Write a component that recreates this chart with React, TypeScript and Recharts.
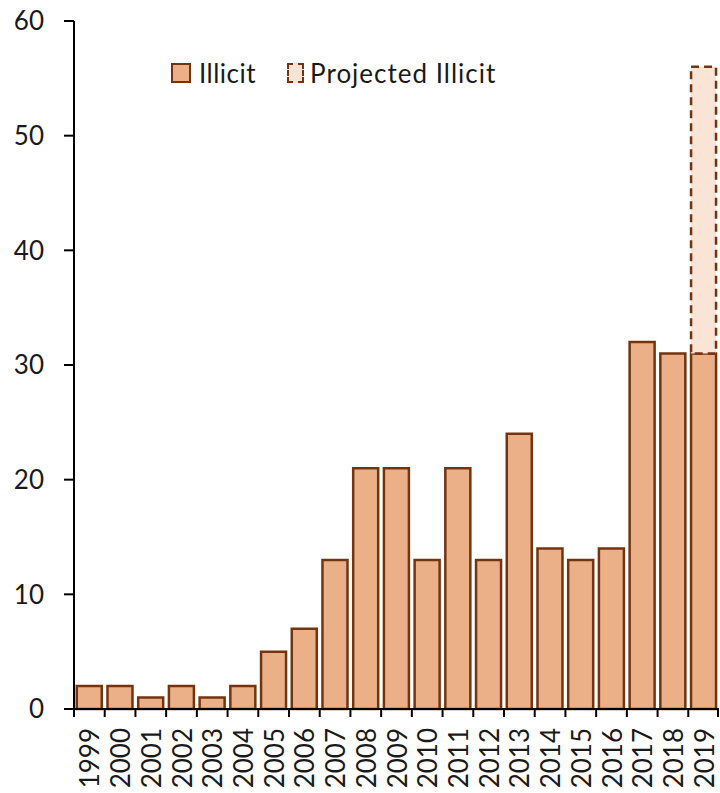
import React from "react";
import { BarChart, Bar, XAxis, YAxis } from "recharts";

const years = [
  "1999", "2000", "2001", "2002", "2003", "2004", "2005", "2006", "2007", "2008", "2009",
  "2010", "2011", "2012", "2013", "2014", "2015", "2016", "2017", "2018", "2019",
];
const illicit = [2, 2, 1, 2, 1, 2, 5, 7, 13, 21, 21, 13, 21, 13, 24, 14, 13, 14, 32, 31, 31];
// extra amount stacked on top of 2019 (projected total 56)
const projectedExtra = [0, 0, 0, 0, 0, 0, 0, 0, 0, 0, 0, 0, 0, 0, 0, 0, 0, 0, 0, 0, 25];
const yTicks = [0, 10, 20, 30, 40, 50, 60];

const data = years.map((year, i) => ({
  year,
  illicit: illicit[i],
  projected: projectedExtra[i] || null,
}));

const FILL = "#EBB088";
const STROKE = "#743410";
const PROJ_FILL = "#F9E4D6";
const FONT = "Lato, 'Open Sans', sans-serif";
const TEXT = "#1a1a1a";

const W = 720;
const H = 793;
const LEFT = 74;
const RIGHT = 1;
const band = (W - LEFT - RIGHT) / years.length;

function YearTick(props: any) {
  const { x, y, payload, index } = props;
  const isLast = index === years.length - 1;
  return (
    <g>
      <line x1={x - band / 2} x2={x - band / 2} y1={y - 9} y2={y} stroke="#000" strokeWidth={2} />
      {isLast && <line x1={x + band / 2 - 1} x2={x + band / 2 - 1} y1={y - 9} y2={y} stroke="#000" strokeWidth={2} />}
      <text
        x={0}
        y={0}
        transform={`translate(${x + 10},${y + 11}) rotate(-90)`}
        textAnchor="end"
        fontSize={26}
        fontFamily={FONT}
        fill={TEXT}
      >
        {payload.value}
      </text>
    </g>
  );
}

function ChartLegend() {
  return (
    <div
      style={{
        position: "absolute",
        left: 171,
        top: 57,
        display: "flex",
        alignItems: "center",
        fontFamily: FONT,
        fontSize: 26,
        color: TEXT,
        whiteSpace: "nowrap",
      }}
    >
      <span style={{ width: 16, height: 16, background: FILL, border: `2px solid ${STROKE}`, display: "inline-block" }} />
      <span style={{ marginLeft: 8, letterSpacing: 0.5 }}>Illicit</span>
      <span
        style={{
          width: 13,
          height: 16,
          background: PROJ_FILL,
          border: `2px dashed ${STROKE}`,
          display: "inline-block",
          marginLeft: 31,
        }}
      />
      <span style={{ marginLeft: 6, letterSpacing: 1 }}>Projected Illicit</span>
    </div>
  );
}

export default function App() {
  return (
    <div style={{ position: "absolute", left: 0, top: 0, width: W, height: H, background: "#fff" }}>
      <BarChart
        width={W}
        height={H}
        data={data}
        margin={{ top: 21, right: RIGHT, left: 0, bottom: 0 }}
        barCategoryGap="9%"
      >
        <YAxis
          domain={[0, 60]}
          ticks={yTicks}
          width={LEFT}
          tickSize={10}
          tickMargin={20}
          axisLine={{ stroke: "#000", strokeWidth: 2 }}
          tickLine={{ stroke: "#000", strokeWidth: 2 }}
          tick={{ fontSize: 26, fontFamily: FONT, fill: TEXT }}
          interval={0}
        />
        <XAxis
          dataKey="year"
          height={84}
          interval={0}
          tickLine={false}
          axisLine={{ stroke: "#000", strokeWidth: 2 }}
          tick={<YearTick />}
        />
        <Bar dataKey="illicit" name="Illicit" stackId="a" fill={FILL} stroke={STROKE} strokeWidth={2.5} isAnimationActive={false} />
        <Bar
          dataKey="projected"
          name="Projected Illicit"
          stackId="a"
          fill={PROJ_FILL}
          stroke={STROKE}
          strokeWidth={2.5}
          strokeDasharray="8 5"
          isAnimationActive={false}
        />
      </BarChart>
      <ChartLegend />
    </div>
  );
}
